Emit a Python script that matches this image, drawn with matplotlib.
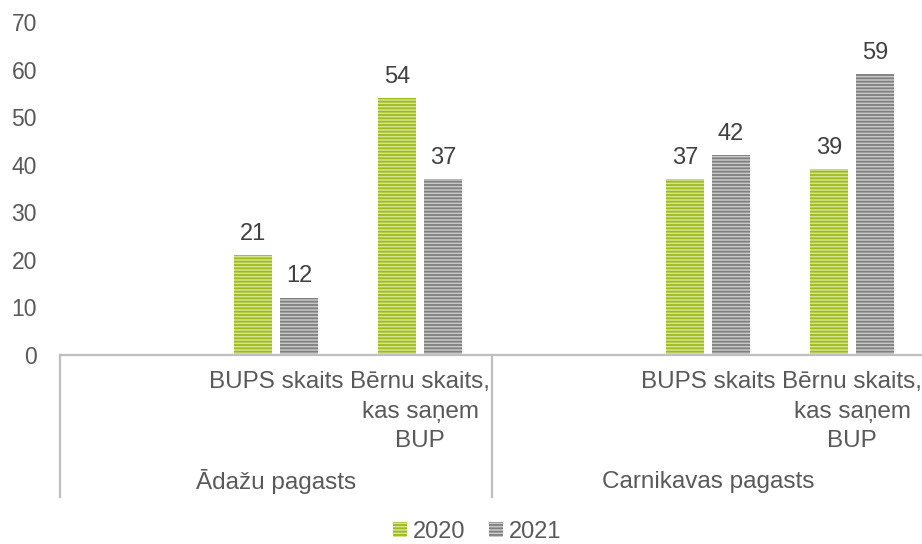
import matplotlib
matplotlib.use("Agg")
import matplotlib.pyplot as plt

plt.rcParams['font.family'] = ['Liberation Sans', 'DejaVu Sans']
plt.rcParams['hatch.linewidth'] = 1.3

# data
slots = [1, 2, 4, 5]          # slots 0 and 3 are empty in the original category axis
cat_labels = ["BUPS skaits", "Bērnu skaits,\nkas saņem\nBUP",
              "BUPS skaits", "Bērnu skaits,\nkas saņem\nBUP"]
groups = ["Ādažu pagasts", "Carnikavas pagasts"]
group_centers = [1, 4]
v2020 = [21, 54, 37, 39]
v2021 = [12, 37, 42, 59]

txt = '#595959'
val_col = '#404040'
axis_col = '#bfbfbf'

fig = plt.figure(figsize=(9.22, 5.44), dpi=100)
ax = fig.add_axes([60/922, 189/544, 864/922, 333/544])

w = 0.27
off = 0.16
b1 = ax.bar([s - off for s in slots], v2020, w, color='#d6e48f', edgecolor='#9dbb1f',
            linewidth=0, hatch='-----', label='2020')
b2 = ax.bar([s + off for s in slots], v2021, w, color='#c8c8c8', edgecolor='#7f7f7f',
            linewidth=0, hatch='-----', label='2021')

for bars, vals in [(b1, v2020), (b2, v2021)]:
    for r, v in zip(bars, vals):
        ax.annotate(str(v), (r.get_x() + r.get_width()/2, v), xytext=(0, 7.5),
                    textcoords='offset points', ha='center', va='bottom',
                    fontsize=17, color=val_col)

ax.set_xlim(-0.5, 5.5)
ax.set_ylim(0, 70)
ax.set_yticks(range(0, 71, 10))
ax.set_xticks([])
ax.tick_params(axis='y', length=0, pad=16.5, labelsize=16.5, labelcolor=txt)
for s in ['top', 'right', 'left']:
    ax.spines[s].set_visible(False)
ax.spines['bottom'].set_color(axis_col)
ax.spines['bottom'].set_linewidth(1.6)

tr = ax.get_xaxis_transform()
for s, lab in zip(slots, cat_labels):
    ax.text(s, -0.048, lab, transform=tr, ha='center', va='top', fontsize=17.5,
            color=txt, linespacing=1.45, multialignment='center')
for gc, g in zip(group_centers, groups):
    ax.text(gc, -0.381, g, transform=tr, ha='center', va='center', fontsize=17.5, color=txt)
for xs in [-0.5, 2.5, 5.5]:
    ax.plot([xs, xs], [0, -0.426], transform=tr, color=axis_col, lw=1.6, clip_on=False)

fig.legend(handles=[b1, b2], loc='center', bbox_to_anchor=(477/922, 1 - 532/544),
           ncol=2, frameon=False, fontsize=17, handlelength=0.6, handleheight=0.6,
           handletextpad=0.25, columnspacing=1.0, labelcolor=txt)

fig.savefig('out.png', dpi=100)
